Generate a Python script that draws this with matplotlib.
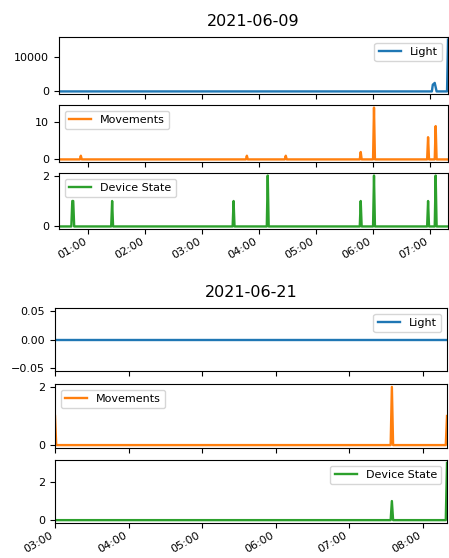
import matplotlib
matplotlib.use("Agg")
import matplotlib.pyplot as plt
import matplotlib.dates as mdates
import pandas as pd

# day 1: 2021-06-09, one sample per minute, zero unless listed
day1 = "2021-06-09"
day1_start, day1_end = "00:29", "07:19"
day1_light = {"07:03": 2000, "07:04": 2200, "07:05": 2500, "07:06": 1200, "07:19": 15200}
day1_moves = {"00:52": 1, "03:47": 1, "04:28": 1, "05:47": 2, "06:01": 14, "06:58": 6, "07:06": 9}
day1_state = {"00:43": 1, "00:44": 1, "01:25": 1, "03:33": 1, "04:09": 2, "05:47": 1,
              "06:01": 2, "06:58": 1, "07:06": 2}

# day 2: 2021-06-21
day2 = "2021-06-21"
day2_start, day2_end = "03:00", "08:20"
day2_light = {}
day2_moves = {"03:00": 1, "07:35": 2, "08:20": 1}
day2_state = {"07:35": 1, "08:20": 3}


def make_frame(day, start, end, light, moves, state):
    idx = pd.date_range(day + " " + start, day + " " + end, freq="1min")
    df = pd.DataFrame(0.0, index=idx, columns=["Light", "Movements", "Device State"])
    for col, events in (("Light", light), ("Movements", moves), ("Device State", state)):
        for t, v in events.items():
            df.loc[pd.Timestamp(day + " " + t), col] = v
    return df


W, H = 449, 558
fig = plt.figure(figsize=(W / 100, H / 100), dpi=100)
colors = ["tab:blue", "tab:orange", "tab:green"]


def draw_group(df, title, left, right, rows, legend_locs):
    axes = []
    for i, (col, (top, bottom)) in enumerate(zip(df.columns, rows)):
        rect = [left / W, 1 - bottom / H, (right - left) / W, (bottom - top) / H]
        ax = fig.add_axes(rect, sharex=axes[0] if axes else None)
        ax.plot(df.index, df[col], color=colors[i], label=col, linewidth=1.7)
        ax.legend(loc=legend_locs[i], fontsize=8)
        ax.tick_params(labelsize=8)
        ax.set_xlim(df.index[0], df.index[-1])
        axes.append(ax)
    for ax in axes[:-1]:
        ax.tick_params(labelbottom=False)
    axes[-1].tick_params(axis="x", pad=2)
    axes[-1].xaxis.set_major_locator(mdates.HourLocator())
    axes[-1].xaxis.set_major_formatter(mdates.DateFormatter("%H:%M"))
    for lab in axes[-1].get_xticklabels():
        lab.set_rotation(30)
        lab.set_ha("right")
    axes[0].set_title(title, fontsize=11.5, pad=8)
    return axes


df1 = make_frame(day1, day1_start, day1_end, day1_light, day1_moves, day1_state)
df2 = make_frame(day2, day2_start, day2_end, day2_light, day2_moves, day2_state)

draw_group(df1, day1, 59, 448, [(37, 94), (105, 162), (173, 229)],
           ["upper right", "upper left", "upper left"])
draw_group(df2, day2, 55, 447, [(308, 371), (384, 448), (460, 523)],
           ["upper right", "upper left", "upper right"])

fig.savefig("out.png", dpi=100)
